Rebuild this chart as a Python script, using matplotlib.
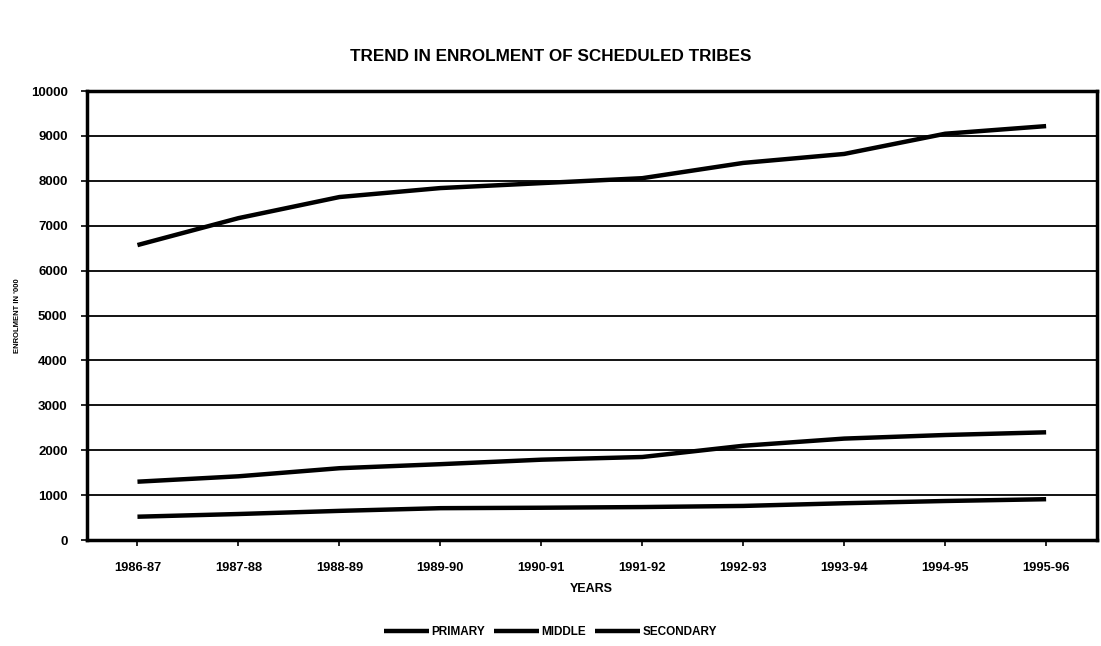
import matplotlib
matplotlib.use("Agg")
import matplotlib.pyplot as plt

years = ["1986-87", "1987-88", "1988-89", "1989-90", "1990-91",
         "1991-92", "1992-93", "1993-94", "1994-95", "1995-96"]
primary = [6570, 7170, 7640, 7840, 7950, 8060, 8400, 8600, 9050, 9220]
middle = [1300, 1420, 1600, 1690, 1790, 1850, 2100, 2260, 2340, 2400]
secondary = [520, 580, 650, 710, 720, 735, 760, 820, 870, 910]
yticks = list(range(0, 10001, 1000))

plt.rcParams['font.family'] = ['Liberation Sans', 'DejaVu Sans']
fig = plt.figure(figsize=(11.01, 6.46), dpi=100)
ax = fig.add_axes([0.079, 0.164, 0.917, 0.695])

x = list(range(len(years)))
ax.plot(x, primary, color="black", lw=3.2, label="PRIMARY", solid_capstyle="butt")
ax.plot(x, middle, color="black", lw=3.2, label="MIDDLE", solid_capstyle="butt")
ax.plot(x, secondary, color="black", lw=3.2, label="SECONDARY", solid_capstyle="butt")

ax.set_xlim(-0.5, len(years) - 0.5)
ax.set_ylim(0, 10000)
ax.set_yticks(yticks)
ax.set_yticklabels([str(v) for v in yticks], fontsize=9.5, fontweight="bold")
ax.set_xticks(x)
ax.set_xticklabels(years, fontsize=9.3, fontweight="bold")
ax.tick_params(axis="y", length=4, width=1.2, pad=10)
ax.tick_params(axis="x", length=4, width=1.2, pad=12)
ax.grid(axis="y", color="black", lw=1.3)
ax.set_axisbelow(True)
for s in ax.spines.values():
    s.set_linewidth(2.5)

ax.set_ylabel("ENROLMENT IN '000", fontsize=5.5, fontweight="bold", labelpad=7)
ax.set_xlabel("YEARS", fontsize=9, fontweight="bold", labelpad=6)
fig.text(0.5, 0.912, "TREND IN ENROLMENT OF SCHEDULED TRIBES",
         ha="center", va="center", fontsize=12.3, fontweight="bold")

leg = fig.legend(loc="center", bbox_to_anchor=(0.5, 0.022), ncol=3, frameon=False,
                 prop={"size": 8.5, "weight": "bold"}, handlelength=3.8,
                 columnspacing=0.8, handletextpad=0.2)

fig.savefig("out.png", dpi=100)
